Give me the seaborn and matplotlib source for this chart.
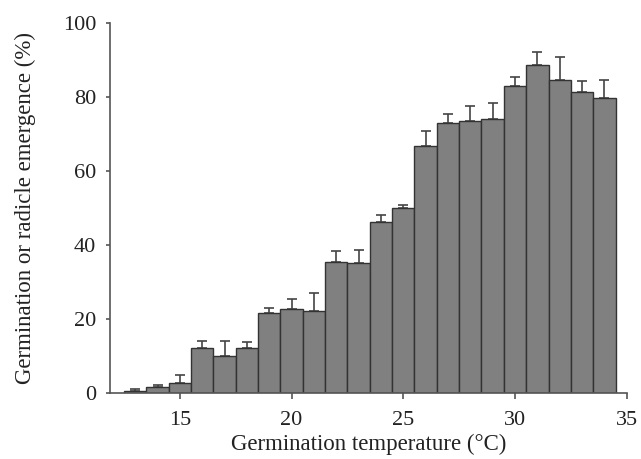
import numpy as np
import pandas as pd
import seaborn as sns
import matplotlib.pyplot as plt

temps = [13, 14, 15, 16, 17, 18, 19, 20, 21, 22, 23, 24,
         25, 26, 27, 28, 29, 30, 31, 32, 33, 34]
emergence = [0.5, 1.6, 2.5, 12.0, 9.8, 12.0, 21.6, 22.6, 22.0, 35.3, 35.0, 46.1,
             50.0, 66.8, 72.9, 73.5, 74.0, 82.9, 88.6, 84.6, 81.3, 79.7]
err_top = [1.1, 2.1, 4.8, 14.1, 13.9, 13.6, 23.0, 25.4, 26.9, 38.3, 38.7, 48.1,
           50.7, 70.8, 75.2, 77.6, 78.3, 85.3, 92.1, 90.7, 84.3, 84.6]

df = pd.DataFrame({'temp': temps, 'emergence': emergence})
upper = np.array(err_top) - np.array(emergence)

sns.set_theme(style="ticks")
plt.rcParams['font.family'] = ['Liberation Serif', 'DejaVu Serif']

fig = plt.figure(figsize=(6.41, 4.59), dpi=100)
ax = fig.add_axes([0.1716, 0.1444, 0.9777 - 0.1716, 0.9505 - 0.1444])

axis_col = '#555555'
ax.errorbar(temps, emergence, yerr=[np.zeros(len(temps)), upper], fmt='none',
            ecolor='#444444', elinewidth=1.2, capsize=3.5, capthick=1.2, zorder=1)
sns.barplot(data=df, x='temp', y='emergence', native_scale=True, width=1,
            color='#808080', saturation=1, edgecolor='#333333', linewidth=1.0,
            ax=ax, zorder=2)

ax.set_xlim(11.87, 35)
ax.set_ylim(0, 100)
ax.set_xticks([15, 20, 25, 30, 35])
ax.set_yticks([0, 20, 40, 60, 80, 100])
ax.tick_params(axis='both', labelsize=16, color=axis_col, length=4, width=1.2,
               labelcolor='#222222')
ax.tick_params(axis='x', pad=9)
ax.tick_params(axis='y', length=3, pad=7)
for s in ['top', 'right']:
    ax.spines[s].set_visible(False)
for s in ['left', 'bottom']:
    ax.spines[s].set_color(axis_col)
    ax.spines[s].set_linewidth(1.2)

ax.set_xlabel('Germination temperature (°C)', fontsize=16.5, color='#222222', labelpad=3)
ax.set_ylabel('Germination or radicle emergence (%)', fontsize=16.5, color='#222222', labelpad=19)

plt.savefig('out.png', dpi=100)
